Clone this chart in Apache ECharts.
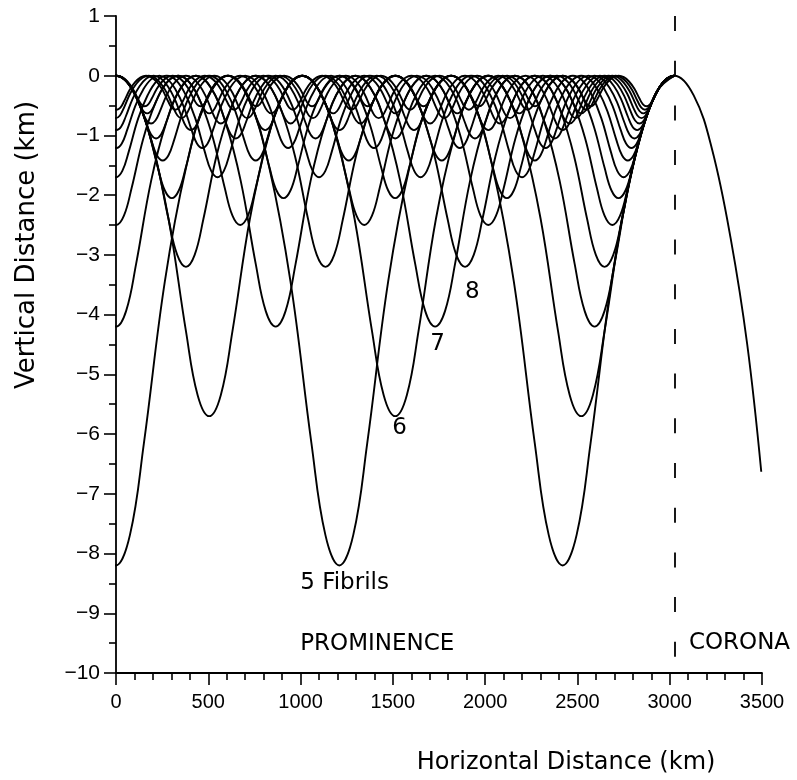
<!DOCTYPE html>
<html><head><meta charset="utf-8">
<script src="https://cdn.jsdelivr.net/npm/echarts@6/dist/echarts.min.js"></script>
<style>html,body{margin:0;padding:0;background:#fff;}#chart{width:797px;height:780px;}</style>
</head><body><div id="chart"></div>
<script>
// ---- values ----
// number of fibrils of each field-line curve
const fibrilCounts = [5, 6, 7, 8, 9, 10, 11, 12, 13, 14, 15, 16, 17, 18, 19, 20];
// depth of the dips (km), read at the minima of each curve
const dipDepth = [8.2, 5.7, 4.2, 3.2, 2.5, 2.05, 1.7, 1.42, 1.21, 1.05, 0.91, 0.8, 0.71, 0.63, 0.57, 0.51];
// distance between neighbouring dips (km)
const fibrilSpacing = [1210, 1008, 864, 756, 672, 605, 550, 504, 465, 432, 403, 378, 356, 336, 318, 302];
// prominence / corona boundary (km): every curve rises to 0 there
const boundaryX = 3025;
// shape of one half period from a dip to the next crest
// (fraction of the spacing, fraction of the depth)
const profileU = [0, 0.0625, 0.125, 0.21875, 0.3125, 0.40625, 0.5];
const profileV = [-1, -0.9375, -0.75, -0.42, -0.19, -0.047, 0];
// the field line continuing into the corona
const coronaX = [3130, 3230, 3330, 3420, 3496];
const coronaY = [-0.33, -1.24, -2.72, -4.5, -6.63];
// tick labels
const xTickLabels = [0, 500, 1000, 1500, 2000, 2500, 3000, 3500];
const yTickLabels = [1, 0, -1, -2, -3, -4, -5, -6, -7, -8, -9, -10];
// annotations: text and anchor in data units
const noteText = ['5 Fibrils', '6', '7', '8', 'PROMINENCE', 'CORONA'];
const noteX = [998, 1536, 1742, 1931, 998, 3104];
const noteY = [-8.5, -5.9, -4.5, -3.62, -9.52, -9.5];

// ---- build series ----
function buildCurve(i) {
  const P = fibrilSpacing[i], D = dipDepth[i];
  const dips = [];
  for (let x = boundaryX - P / 2; x > -P; x -= P) dips.unshift(x);
  const pts = [];
  dips.forEach((xc, k) => {
    for (let j = profileU.length - 1; j >= 0; j--) {
      if (k > 0 && j === profileU.length - 1) continue;
      pts.push([xc - profileU[j] * P, profileV[j] * D]);
    }
    for (let j = 1; j < profileU.length; j++) pts.push([xc + profileU[j] * P, profileV[j] * D]);
  });
  if (i === 0) coronaX.forEach((x, j) => pts.push([x, coronaY[j]]));
  return pts;
}

const ink = '#000';
const series = fibrilCounts.map((n, i) => ({
  type: 'line', name: n + ' fibrils', data: buildCurve(i),
  showSymbol: false, smooth: 0.4, clip: true, silent: true,
  lineStyle: { color: ink, width: 1.9 }
}));

series[0].markLine = {
  symbol: 'none', silent: true, label: { show: false },
  lineStyle: { color: ink, width: 1.8, type: [15, 29.7] },
  data: [[{ coord: [boundaryX, 1] }, { coord: [boundaryX, -9.75] }]]
};

const centred = [false, true, true, true, false, false];
series.push({
  type: 'scatter', silent: true, symbolSize: 0,
  itemStyle: { color: ink, opacity: 1 },
  data: noteText.map((t, i) => ({
    value: [noteX[i], noteY[i]],
    label: {
      show: true, formatter: t, color: ink, opacity: 1,
      fontFamily: '"DejaVu Sans", sans-serif',
      fontSize: 23,
      position: centred[i] ? 'inside' : 'right', distance: 0,
      align: centred[i] ? 'center' : 'left', verticalAlign: 'middle'
    }
  }))
});

const chart = echarts.init(document.getElementById('chart'), null, { renderer: 'canvas' });
chart.setOption({
  animation: false,
  backgroundColor: '#fff',
  grid: { left: 116, top: 16, width: 646, height: 657, containLabel: false },
  xAxis: {
    type: 'value', min: 0, max: 3500, interval: 500,
    axisLine: { onZero: false, lineStyle: { color: ink, width: 1.8 } },
    axisTick: { length: 12, lineStyle: { color: ink, width: 1.6 } },
    minorTick: { show: true, splitNumber: 5, length: 7, lineStyle: { color: ink, width: 1.6 } },
    splitLine: { show: false },
    axisLabel: {
      color: ink, fontSize: 20, fontFamily: '"Liberation Sans", Arial, sans-serif', margin: 19,
      formatter: v => xTickLabels.includes(v) ? String(v) : ''
    }
  },
  yAxis: {
    type: 'value', min: -10, max: 1, interval: 1,
    axisLine: { show: true, onZero: false, lineStyle: { color: ink, width: 1.8 } },
    axisTick: { show: true, length: 12, lineStyle: { color: ink, width: 1.6 } },
    minorTick: { show: true, splitNumber: 2, length: 7, lineStyle: { color: ink, width: 1.6 } },
    splitLine: { show: false },
    axisLabel: {
      color: ink, fontSize: 21, fontFamily: '"Liberation Sans", Arial, sans-serif', margin: 16,
      formatter: v => yTickLabels.includes(v) ? String(v).replace('-', '\u2212') : ''
    }
  },
  graphic: [
    { type: 'text', x: 566, y: 763, silent: true,
      style: { text: 'Horizontal Distance (km)', fill: ink, fontSize: 24, fontFamily: '"DejaVu Sans", sans-serif', align: 'center', verticalAlign: 'middle' } },
    { type: 'text', x: 27, y: 245, rotation: Math.PI / 2, silent: true,
      style: { text: 'Vertical Distance (km)', fill: ink, fontSize: 26, fontFamily: '"DejaVu Sans", sans-serif', align: 'center', verticalAlign: 'middle' } }
  ],
  series: series
});
</script></body></html>
